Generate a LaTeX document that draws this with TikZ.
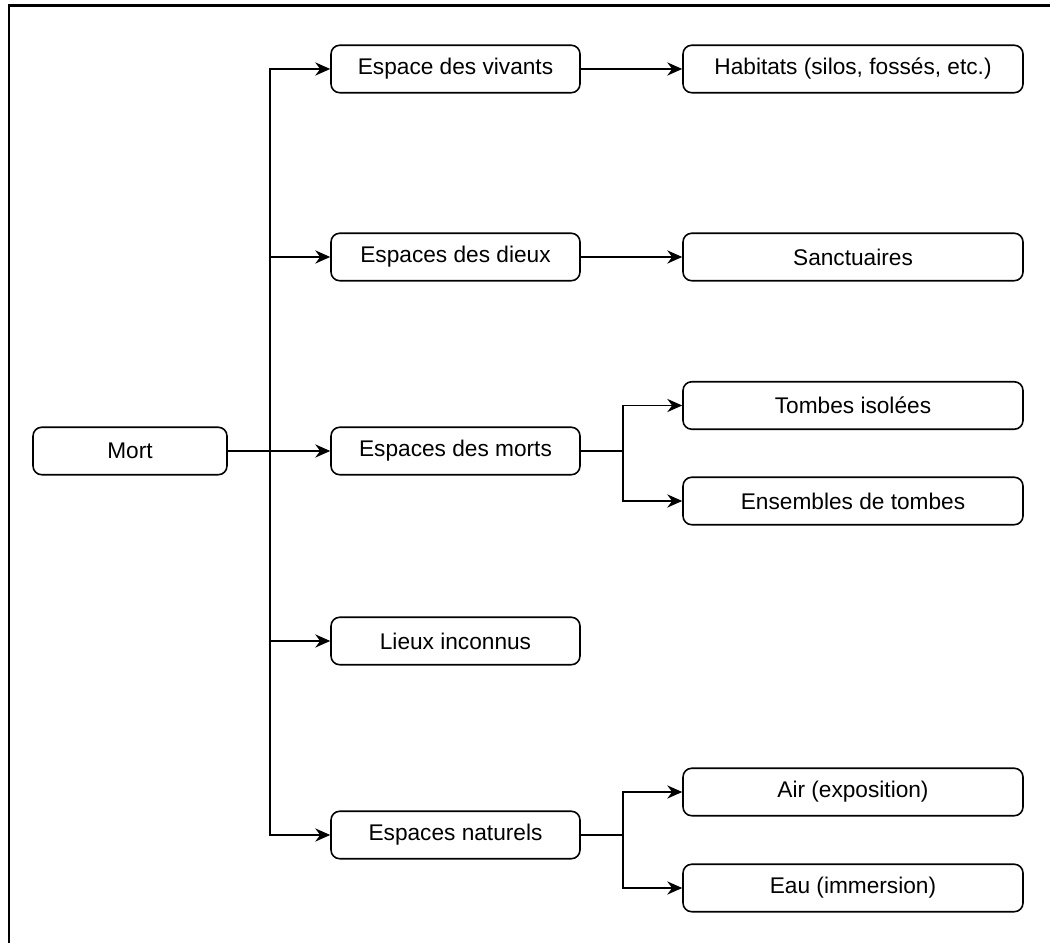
\documentclass[tikz,border=0pt]{standalone}
\usepackage{fontspec}
\setmainfont{Liberation Sans}
\usetikzlibrary{arrows.meta}

\tikzset{
  box/.style={draw, rounded corners=5pt, line width=0.9pt, minimum height=0.95cm,
    inner sep=0pt, font=\fontsize{12.9}{15}\selectfont},
  rootbox/.style={box, minimum width=3.88cm},
  midbox/.style={box, minimum width=4.98cm},
  leafbox/.style={box, minimum width=6.8cm},
  arr/.style={-{Stealth[length=8.5pt,width=7.5pt]}, line width=0.75pt}
}

\begin{document}
\begin{tikzpicture}
\useasboundingbox (0,0) rectangle (21,-18.86);
% frame (only top and left visible)
\draw[line width=1.7pt] (21,-0.12) -- (0.18,-0.12) -- (0.18,-18.86);

\node[rootbox] (mort) at (2.60,-9.02) {Mort};

\node[midbox] (vivants) at (9.11,-1.38) {Espace des vivants};
\node[midbox] (dieux) at (9.11,-5.14) {Espaces des dieux};
\node[midbox] (morts) at (9.11,-9.02) {Espaces des morts};
\node[midbox] (lieux) at (9.11,-12.82) {Lieux inconnus};
\node[midbox] (naturels) at (9.11,-16.70) {Espaces naturels};

\node[leafbox] (habitats) at (17.06,-1.38) {Habitats (silos, fossés, etc.)};
\node[leafbox] (sanct) at (17.06,-5.14) {Sanctuaires};
\node[leafbox] (tombes) at (17.06,-8.11) {Tombes isolées};
\node[leafbox] (ensembles) at (17.06,-10.02) {Ensembles de tombes};
\node[leafbox] (air) at (17.06,-15.84) {Air (exposition)};
\node[leafbox] (eau) at (17.06,-17.76) {Eau (immersion)};

\coordinate (trunk) at (5.40,-9.02);
\coordinate (fork) at (12.46,0);

% first level
\draw[arr] (mort.east) -- (morts.west);
\draw[arr] (mort.east) -- (trunk) |- (vivants.west);
\draw[arr] (trunk) |- (dieux.west);
\draw[arr] (trunk) |- (lieux.west);
\draw[arr] (trunk) |- (naturels.west);

% second level
\draw[arr] (vivants.east) -- (habitats.west);
\draw[arr] (dieux.east) -- (sanct.west);
\draw[arr] (morts.east) -- (morts.east -| fork) |- (tombes.west);
\draw[arr] (morts.east -| fork) |- (ensembles.west);
\draw[arr] (naturels.east) -- (naturels.east -| fork) |- (air.west);
\draw[arr] (naturels.east -| fork) |- (eau.west);

\end{tikzpicture}
\end{document}
